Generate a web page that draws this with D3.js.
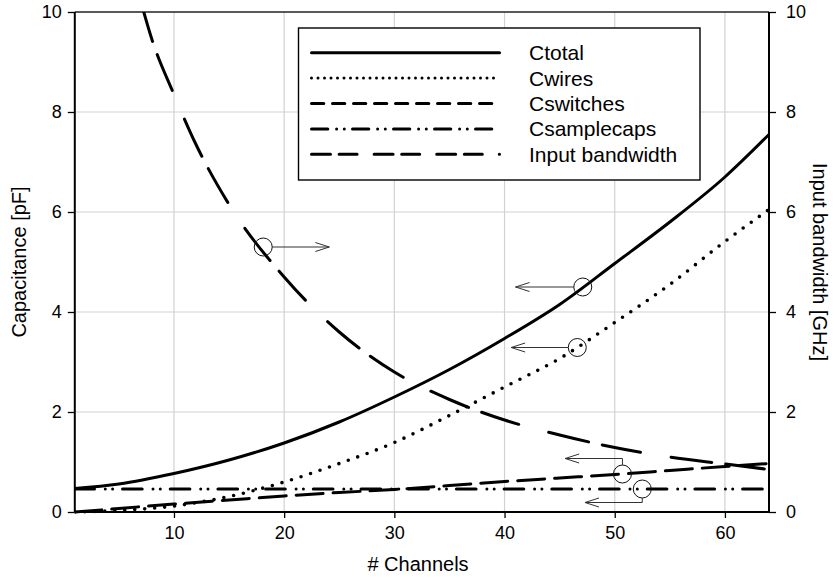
<!DOCTYPE html>
<html>
<head>
<meta charset="utf-8">
<script src="https://cdn.jsdelivr.net/npm/d3@7"></script>
<style>
  html, body { margin: 0; padding: 0; background: #fff; }
  svg { display: block; font-family: "Liberation Sans", Arial, Helvetica, sans-serif; }
</style>
</head>
<body>
<svg id="chart" width="834" height="578"></svg>
<script>
// Channel counts at which the capacitances were evaluated
const channels = [1, 5, 10, 15, 20, 25, 30, 35, 40, 45, 50, 55, 60, 64];
// Capacitance contributions [pF]
const cTotal      = [0.47, 0.56, 0.77, 1.04, 1.38, 1.80, 2.30, 2.85, 3.47, 4.15, 4.97, 5.80, 6.70, 7.55];
const cWires      = [0.00, 0.03, 0.12, 0.31, 0.60, 0.97, 1.39, 1.93, 2.50, 3.07, 3.79, 4.55, 5.41, 6.05];
const cSwitches   = [0.00, 0.07, 0.16, 0.24, 0.32, 0.39, 0.45, 0.53, 0.61, 0.68, 0.75, 0.83, 0.91, 0.97];
const cSampleCaps = [0.46, 0.46, 0.46, 0.46, 0.46, 0.46, 0.46, 0.46, 0.46, 0.46, 0.46, 0.46, 0.46, 0.46];
// Input bandwidth [GHz]
const bwChannels  = [7, 8, 10, 12, 15, 20, 25, 30, 35, 40, 45, 50, 55, 60, 64];
const bandwidth   = [10.2, 9.45, 8.35, 7.35, 6.15, 4.70, 3.60, 2.80, 2.25, 1.84, 1.54, 1.29, 1.10, 0.96, 0.85];

// Axis ticks
const xTicks = [10, 20, 30, 40, 50, 60];
const yTicks = [0, 2, 4, 6, 8, 10];

// Legend entries
const legendLabels = ["Ctotal", "Cwires", "Cswitches", "Csamplecaps", "Input bandwidth"];

// Callouts: circle on a curve, arrow pointing to the axis it belongs to
const callouts = [
  { cx: 18.1, cy: 5.30, elbowY: null, tipX: 24.1 },
  { cx: 47.1, cy: 4.50, elbowY: null, tipX: 41.0 },
  { cx: 46.6, cy: 3.29, elbowY: null, tipX: 40.6 },
  { cx: 50.7, cy: 0.76, elbowY: 1.07, tipX: 45.5 },
  { cx: 52.5, cy: 0.46, elbowY: 0.19, tipX: 47.3 }
];

const svg = d3.select("#chart");
const plotLeft = 74.8, plotRight = 769, plotTop = 12, plotBottom = 512;

const x = d3.scaleLinear().domain([1, 64]).range([plotLeft, plotRight]);
const y = d3.scaleLinear().domain([0, 10]).range([plotBottom, plotTop]);

// Grid
const grid = svg.append("g");
grid.selectAll("line.vx").data(xTicks).enter().append("line")
  .attr("x1", d => x(d)).attr("x2", d => x(d))
  .attr("y1", plotTop).attr("y2", plotBottom)
  .attr("stroke", "#d2d2d2").attr("stroke-width", 1.2);
grid.selectAll("line.hy").data(yTicks.filter(d => d > 0 && d < 10)).enter().append("line")
  .attr("x1", plotLeft).attr("x2", plotRight)
  .attr("y1", d => y(d)).attr("y2", d => y(d))
  .attr("stroke", "#d2d2d2").attr("stroke-width", 1.2);

// Axes
function styleAxis(g) {
  g.select(".domain").remove();
  g.selectAll(".tick line").attr("stroke", "#000").attr("stroke-width", 1.3);
  g.selectAll(".tick text").attr("fill", "#000").style("font-size", "18px")
    .style("font-family", "'Liberation Sans', Arial, sans-serif");
}
svg.append("g").attr("transform", `translate(0,${plotBottom})`)
  .call(d3.axisBottom(x).tickValues(xTicks).tickSize(6).tickPadding(8))
  .call(styleAxis);
svg.append("g").attr("transform", `translate(${plotLeft},0)`)
  .call(d3.axisLeft(y).tickValues(yTicks).tickSize(7).tickPadding(6))
  .call(styleAxis);
svg.append("g").attr("transform", `translate(${plotRight},0)`)
  .call(d3.axisRight(y).tickValues(yTicks).tickSize(7).tickPadding(10))
  .call(styleAxis);

// Frame
svg.append("line").attr("x1", plotLeft).attr("x2", plotRight).attr("y1", plotTop).attr("y2", plotTop)
  .attr("stroke", "#222").attr("stroke-width", 1.4);
svg.append("line").attr("x1", plotLeft).attr("x2", plotRight).attr("y1", plotBottom).attr("y2", plotBottom)
  .attr("stroke", "#000").attr("stroke-width", 2);
svg.append("line").attr("x1", plotLeft).attr("x2", plotLeft).attr("y1", plotTop).attr("y2", plotBottom)
  .attr("stroke", "#000").attr("stroke-width", 2);
svg.append("line").attr("x1", plotRight).attr("x2", plotRight).attr("y1", plotTop).attr("y2", plotBottom)
  .attr("stroke", "#000").attr("stroke-width", 2);

// Clip for curves
svg.append("clipPath").attr("id", "plotClip").append("rect")
  .attr("x", plotLeft).attr("y", plotTop).attr("width", plotRight - plotLeft).attr("height", plotBottom - plotTop + 2);

const line = d3.line().x(d => x(d[0])).y(d => y(d[1])).curve(d3.curveMonotoneX);
const zipc = vals => channels.map((c, i) => [c, vals[i]]);

const series = [
  { data: zipc(cTotal),      dash: null,                       legendDash: null },
  { data: zipc(cWires),      dash: "0 10",                     legendDash: "0 6.5" },
  { data: zipc(cSwitches),   dash: "27 10",                    legendDash: "12.3 8.7" },
  { data: zipc(cSampleCaps), dash: "19.7 10.8 0 7.3 0 9.9",    legendDash: "16.3 8.8 0 7.7 0 8.2" },
  { data: bwChannels.map((c, i) => [c, bandwidth[i]]), dash: "41 14 39 31", legendDash: "19 8.6 18 17" }
];

const curves = svg.append("g").attr("clip-path", "url(#plotClip)");
series.forEach(s => {
  curves.append("path").datum(s.data)
    .attr("d", line)
    .attr("fill", "none").attr("stroke", "#000")
    .attr("stroke-width", s.dash === "0 10" ? 3.6 : 3)
    .attr("stroke-linecap", "round").attr("stroke-linejoin", "round")
    .attr("stroke-dasharray", s.dash);
});

// Callouts
const ann = svg.append("g");
const r = 9;
callouts.forEach(c => {
  const cx = x(c.cx), cy = y(c.cy), tx = x(c.tipX);
  ann.append("circle").attr("cx", cx).attr("cy", cy).attr("r", r)
    .attr("fill", "none").attr("stroke", "#111").attr("stroke-width", 1);
  let pts;
  if (c.elbowY === null) {
    const sx = tx > cx ? cx + r : cx - r;
    pts = [[sx, cy], [tx, cy]];
  } else {
    const ey = y(c.elbowY);
    const sy = ey < cy ? cy - r : cy + r;
    pts = [[cx, sy], [cx, ey], [tx, ey]];
  }
  ann.append("path").attr("d", d3.line()(pts))
    .attr("fill", "none").attr("stroke", "#333").attr("stroke-width", 1);
  const ty = pts[pts.length - 1][1];
  const dir = tx > cx ? -1 : 1;
  ann.append("path")
    .attr("d", d3.line()([[tx + dir * 14, ty - 4.5], [tx, ty], [tx + dir * 14, ty + 4.5]]))
    .attr("fill", "none").attr("stroke", "#333").attr("stroke-width", 1);
});

// Legend
const lg = svg.append("g");
lg.append("rect").attr("x", 298.5).attr("y", 28).attr("width", 401.5).attr("height", 152)
  .attr("fill", "#fff").attr("stroke", "#000").attr("stroke-width", 1.4);
const legendY = d3.scalePoint().domain(legendLabels).range([52.7, 154.3]);
legendLabels.forEach((lab, i) => {
  const ly = legendY(lab);
  lg.append("line").attr("x1", 311.5).attr("x2", 499.5).attr("y1", ly).attr("y2", ly)
    .attr("stroke", "#000").attr("stroke-width", 3).attr("stroke-linecap", "round")
    .attr("stroke-dasharray", series[i].legendDash);
  lg.append("text").attr("x", 529).attr("y", ly + 7.5).text(lab)
    .style("font-size", "21px").attr("fill", "#000");
});

// Axis titles
svg.append("text").attr("x", 418).attr("y", 571).attr("text-anchor", "middle")
  .style("font-size", "20px").text("# Channels");
svg.append("text").attr("transform", `translate(26,${(plotTop + plotBottom) / 2}) rotate(-90)`)
  .attr("text-anchor", "middle").style("font-size", "20px").text("Capacitance [pF]");
svg.append("text").attr("transform", `translate(813,${(plotTop + plotBottom) / 2}) rotate(90)`)
  .attr("text-anchor", "middle").style("font-size", "20px").text("Input bandwidth [GHz]");
</script>
</body>
</html>
